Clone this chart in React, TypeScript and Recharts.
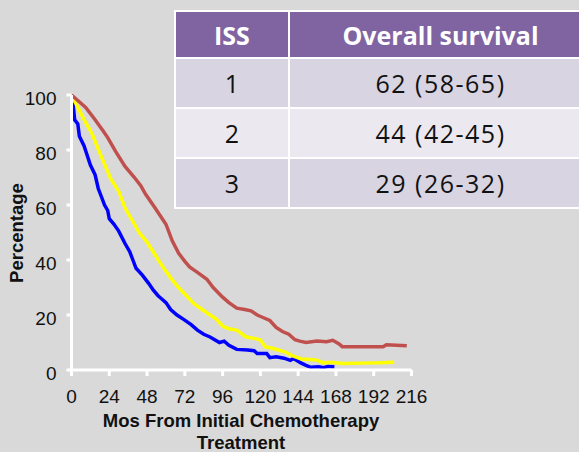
import { LineChart, Line, XAxis, YAxis } from "recharts";

// ISS stage 1
const iss1Months = [0, 4, 9, 15, 20, 23, 28, 34, 40, 44, 47, 53, 60, 64, 68, 72, 75, 80, 86, 90, 96, 100, 105, 110, 114, 118, 122, 126, 130, 134, 138, 142, 145, 149, 156, 162, 166, 170, 172, 190, 198, 200, 213];
const iss1Survival = [100, 98, 95.5, 91, 87, 84.5, 79.5, 74, 70, 67, 64, 59, 53, 47, 42.5, 39.5, 37.5, 35.5, 33, 30, 26.5, 24.5, 22.5, 22, 21.5, 20, 19, 18, 15.5, 14, 13, 11, 10.5, 10, 10.5, 10.3, 10.8, 9.5, 8.5, 8.5, 8.5, 9.2, 8.8];

// ISS stage 2
const iss2Months = [0, 4, 8, 13, 19, 25, 30, 34, 38, 43, 48, 53, 58, 63, 68, 73, 78, 83, 88, 92, 96, 100, 105, 111, 116, 120, 123, 127, 133, 136, 141, 146, 152, 156, 160, 165, 172, 185, 196, 205];
const iss2Survival = [100, 95.5, 91, 86, 77.5, 69.5, 65, 59, 55, 50, 46.5, 42, 37.5, 33.5, 30, 27, 24, 22, 20, 18.5, 16, 15, 14.5, 12, 11.5, 11, 8.5, 8, 7, 6.5, 5, 4, 3.8, 3.6, 2.6, 2.8, 2.4, 2.5, 2.6, 2.8];

// ISS stage 3
const iss3Months = [0, 1, 2, 4, 5, 8, 10, 12, 15, 17, 19, 21, 23, 24, 27, 30, 34, 37, 39, 41, 45, 49, 52, 55, 57, 60, 63, 67, 71, 76, 80, 84, 88, 94, 97, 100, 105, 112, 116, 118, 124, 126, 130, 135, 139, 141, 146, 149, 152, 157, 160, 163, 167];
const iss3Survival = [100, 97, 91, 89.5, 85, 81.5, 78, 74.5, 71, 66, 63, 60, 58, 55, 53, 50.5, 46, 43, 40, 37, 34.5, 31.5, 29, 27, 26, 24.5, 22, 20, 18.5, 16.5, 14.5, 13, 12, 10, 10.5, 9, 7.5, 7.3, 7, 6, 6, 4.5, 4.8, 4.3, 3.5, 4.2, 2.5, 1.7, 1, 1.2, 0.8, 1.3, 1.2];

const xTicks = [0, 24, 48, 72, 96, 120, 144, 168, 192, 216];
const yTicks = [0, 20, 40, 60, 80, 100];

const tableHeader = ["ISS", "Overall survival"];
const tableStages = ["1", "2", "3"];
const tableSurvival = ["62 (58-65)", "44 (42-45)", "29 (26-32)"];

const toPoints = (months: number[], pct: number[]) =>
  months.map((month, i) => ({ month, pct: pct[i] }));

const axisFont = { fontFamily: "'Liberation Sans', Arial, sans-serif", fontSize: 19, fill: "#111" };
const white = { stroke: "#ffffff", strokeWidth: 3 };
const cellBorder = "2px solid #fff";

const App = () => {
  return (
    <div
      style={{
        position: "absolute",
        left: 0,
        top: 0,
        width: 579,
        height: 452,
        background: "#d9d9d9",
        overflow: "hidden",
      }}
    >
      <LineChart
        width={579}
        height={452}
        margin={{ top: 95, right: 167.5, bottom: 52, left: 31.5 }}
      >
        <XAxis
          type="number"
          dataKey="month"
          domain={[0, 216]}
          ticks={xTicks}
          height={30}
          axisLine={white}
          tickLine={white}
          tickSize={6}
          tickMargin={14}
          tick={axisFont}
          interval={0}
        />
        <YAxis
          type="number"
          dataKey="pct"
          domain={[0, 100]}
          ticks={yTicks}
          width={40}
          axisLine={white}
          tickLine={white}
          tickSize={5}
          tickMargin={10}
          tick={{ ...axisFont, dy: 3 }}
          interval={0}
        />
        <Line
          data={toPoints(iss3Months, iss3Survival)}
          dataKey="pct"
          type="linear"
          stroke="#0000ff"
          strokeWidth={3.5}
          dot={false}
          isAnimationActive={false}
        />
        <Line
          data={toPoints(iss2Months, iss2Survival)}
          dataKey="pct"
          type="linear"
          stroke="#ffff00"
          strokeWidth={3.5}
          dot={false}
          isAnimationActive={false}
        />
        <Line
          data={toPoints(iss1Months, iss1Survival)}
          dataKey="pct"
          type="linear"
          stroke="#c0504d"
          strokeWidth={3.5}
          dot={false}
          isAnimationActive={false}
        />
      </LineChart>

      <div
        style={{
          position: "absolute",
          left: 17,
          top: 233,
          transform: "translate(-50%, -50%) rotate(-90deg)",
          fontFamily: "'Liberation Sans', Arial, sans-serif",
          fontWeight: "bold",
          fontSize: 18.5,
          color: "#111",
          whiteSpace: "nowrap",
        }}
      >
        Percentage
      </div>
      <div
        style={{
          position: "absolute",
          left: 241,
          top: 410,
          transform: "translateX(-50%)",
          fontFamily: "'Liberation Sans', Arial, sans-serif",
          fontWeight: "bold",
          fontSize: 18.5,
          lineHeight: "22px",
          color: "#111",
          textAlign: "center",
          whiteSpace: "nowrap",
        }}
      >
        Mos From Initial Chemotherapy
        <br />
        Treatment
      </div>

      <table
        style={{
          position: "absolute",
          left: 174,
          top: 10,
          width: 419,
          height: 196,
          borderCollapse: "collapse",
          fontFamily: "'Open Sans', Lato, sans-serif",
          fontSize: 25,
          color: "#111",
          textAlign: "center",
        }}
      >
        <tbody>
          <tr style={{ background: "#8064a2", color: "#fff", fontWeight: "bold", height: 47 }}>
            <td style={{ width: 112, border: cellBorder, padding: 0 }}>{tableHeader[0]}</td>
            <td style={{ border: cellBorder, padding: 0 }}>{tableHeader[1]}</td>
          </tr>
          {tableStages.map((s, i) => (
            <tr key={s} style={{ background: i % 2 === 0 ? "#d8d4e1" : "#ebe9ef", height: 50 }}>
              <td style={{ border: cellBorder, padding: 0 }}>{s}</td>
              <td style={{ border: cellBorder, padding: 0, letterSpacing: 1.5 }}>{tableSurvival[i]}</td>
            </tr>
          ))}
        </tbody>
      </table>
    </div>
  );
};

export default App;
